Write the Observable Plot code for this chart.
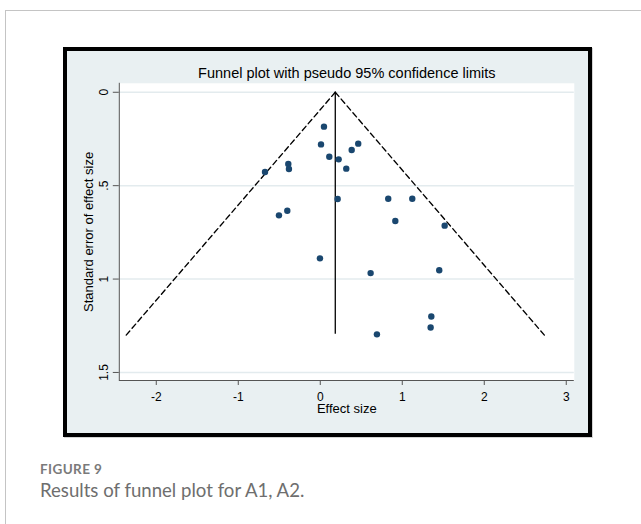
<!DOCTYPE html>
<html><head><meta charset="utf-8">
<script src="https://cdn.jsdelivr.net/npm/d3@7"></script>
<script src="https://cdn.jsdelivr.net/npm/@observablehq/plot@0.6"></script>
<style>
html,body{margin:0;padding:0;background:#fff;}
body{width:641px;height:524px;position:relative;overflow:hidden;font-family:"Liberation Sans",Arial,sans-serif;}
#card{position:absolute;left:5px;top:10px;right:-2px;bottom:-2px;border-left:1.5px solid #c4c4c4;border-top:1.5px solid #c4c4c4;}
#frame{position:absolute;left:63px;top:47px;width:529px;height:390px;box-sizing:border-box;border:4.5px solid #000;background:#e9f0f2;box-shadow:1px 1px 0 #d4d4d4;}
#chart{position:absolute;left:0;top:0;}
#chart svg{display:block;overflow:visible;}
#fig{position:absolute;left:40px;top:461px;font-family:Lato,"Open Sans",sans-serif;font-weight:700;font-size:13.5px;line-height:1.2;color:#7a7a7a;letter-spacing:0.4px;}
#cap{position:absolute;left:40px;top:479px;font-family:Lato,"Open Sans",sans-serif;font-weight:400;font-size:18.6px;line-height:1.2;color:#6e6e6e;}
</style></head>
<body>
<div id="card"></div>
<div id="frame"><div id="chart"></div></div>
<div id="fig">FIGURE 9</div>
<div id="cap">Results of funnel plot for A1, A2.</div>
<script>
// Study-level values
const effectSize = [0.045, 0.009, 0.463, 0.383, 0.110, 0.224, 0.317, -0.390, -0.382, -0.674,
                    0.212, 0.829, 1.122, -0.402, -0.504, 0.915, 1.517, -0.004, 0.614, 1.451,
                    1.354, 1.346, 0.691];
const standardError = [0.184, 0.279, 0.275, 0.309, 0.345, 0.359, 0.409, 0.384, 0.411, 0.427,
                       0.571, 0.570, 0.570, 0.634, 0.659, 0.689, 0.714, 0.889, 0.968, 0.953,
                       1.200, 1.259, 1.296];
// Pooled estimate line and pseudo 95% limits
const pooledEffect = [0.183];
const pooledSE = [0, 1.296];
const funnelLeftX = [-2.367, 0.183];
const funnelLeftY = [1.30, 0];
const funnelRightX = [0.183, 2.733];
const funnelRightY = [0, 1.30];
// Axes
const xTicks = [-2, -1, 0, 1, 2, 3];
const xTickLabels = ["-2", "-1", "0", "1", "2", "3"];
const yTicks = [0, 0.5, 1, 1.5];
const yTickLabels = ["0", ".5", "1", "1.5"];
const xDomain = [-2.451, 3.098];
const yDomain = [-0.048, 1.543];
const titleText = "Funnel plot with pseudo 95% confidence limits";
const xLabel = "Effect size";
const yLabel = "Standard error of effect size";

const studies = effectSize.map((x, i) => ({x, y: standardError[i]}));
const funnelLeft = funnelLeftX.map((x, i) => ({x, y: funnelLeftY[i]}));
const funnelRight = funnelRightX.map((x, i) => ({x, y: funnelRightY[i]}));

const chart = Plot.plot({
  width: 520, height: 381,
  marginLeft: 51.8, marginRight: 13.2, marginTop: 31.8, marginBottom: 52,
  x: {domain: xDomain},
  y: {domain: yDomain, reverse: true},
  style: {background: "transparent", fontFamily: "Liberation Sans, Arial, sans-serif", fontSize: "12px", color: "#000"},
  marks: [
    Plot.frame({fill: "#fff", stroke: null}),
    Plot.gridY(yTicks, {stroke: "#e3ebee", strokeOpacity: 1, strokeWidth: 1.5}),
    Plot.ruleY([yDomain[1]], {stroke: "#555", strokeWidth: 1}),
    Plot.ruleX([xDomain[0]], {stroke: "#555", strokeWidth: 1}),
    Plot.axisX(xTicks, {tickSize: 5, tickPadding: 7, stroke: "#555", fontSize: 12, tickFormat: d => xTickLabels[xTicks.indexOf(d)], label: null}),
    Plot.axisY(yTicks, {tickSize: 6, tickPadding: 5, tickRotate: -90, stroke: "#555", fontSize: 12, tickFormat: d => yTickLabels[yTicks.indexOf(d)], label: null}),
    Plot.line(funnelLeft, {x: "x", y: "y", stroke: "#000", strokeWidth: 1.35, strokeDasharray: "5.5,3.5"}),
    Plot.line(funnelRight, {x: "x", y: "y", stroke: "#000", strokeWidth: 1.35, strokeDasharray: "5.5,3.5"}),
    Plot.ruleX(pooledEffect, {y1: pooledSE[0], y2: pooledSE[1], stroke: "#000", strokeWidth: 1.3}),
    Plot.dot(studies, {x: "x", y: "y", r: 3.2, fill: "#1a476f", stroke: null}),
    Plot.text([titleText], {frameAnchor: "top", textAnchor: "middle", lineAnchor: "bottom", dy: -5, fontSize: 14.5}),
    Plot.text([yLabel], {frameAnchor: "left", textAnchor: "middle", rotate: -90, dx: -30.6, fontSize: 13}),
    Plot.text([xLabel], {frameAnchor: "bottom", textAnchor: "middle", lineAnchor: "bottom", dy: 32.8, fontSize: 13})
  ]
});
document.getElementById("chart").appendChild(chart);
</script>
</body></html>
